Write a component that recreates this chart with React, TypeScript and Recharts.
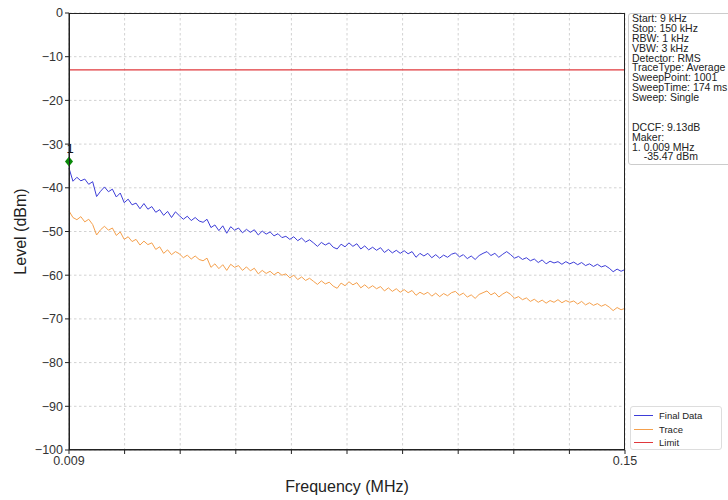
import {
  LineChart,
  Line,
  XAxis,
  YAxis,
  CartesianGrid,
  ReferenceLine,
  ReferenceDot,
} from 'recharts'

// sweep: 0.009 MHz .. 0.150 MHz, one sample every 0.001 MHz
const FREQ_START = 0.009
const FREQ_STEP = 0.001

const FINAL_DATA = [
  -35.5, -38.5, -37.6, -38.4, -38.0, -39.2, -38.6, -42.0, -40.8, -39.8,
  -40.9, -40.3, -42.1, -41.2, -43.4, -42.6, -43.9, -43.5, -44.8, -43.6,
  -44.9, -44.3, -45.6, -45.0, -46.3, -45.4, -46.8, -45.5, -46.4, -47.2,
  -46.5, -47.5, -46.8, -47.6, -47.9, -47.2, -49.1, -48.5, -49.8, -48.7,
  -50.4, -48.9, -49.7, -49.2, -50.3, -49.5, -50.2, -49.6, -50.8, -49.9,
  -50.6, -50.1, -51.0, -50.5, -51.4, -51.1, -51.8, -51.2, -52.1, -51.5,
  -52.4, -51.9, -52.6, -53.4, -52.5, -53.1, -52.6, -53.6, -54.0, -52.9,
  -53.5, -52.6, -53.4, -52.8, -54.0, -53.3, -54.2, -53.6, -54.3, -53.7,
  -54.8, -54.1, -54.9, -54.3, -55.0, -54.4, -55.1, -54.6, -55.9, -55.0,
  -55.6, -55.0, -56.0, -55.3, -56.1, -55.4, -55.9, -55.2, -54.9, -55.8,
  -55.3, -56.2, -55.6, -56.4, -55.5, -55.0, -54.6, -55.5, -55.0, -55.9,
  -55.2, -54.6, -55.3, -56.1, -55.7, -56.4, -56.0, -56.7, -56.3, -57.1,
  -56.5, -57.4, -56.8, -57.2, -56.9, -57.5, -56.9, -57.4, -57.0, -57.6,
  -57.1, -57.8, -57.4, -58.0, -57.5, -58.1, -57.8, -58.4, -59.2, -58.6,
  -59.1, -58.7,
]

const TRACE = [
  -45.3, -46.8, -47.3, -46.6, -47.8, -47.2, -48.4, -50.8, -49.6, -48.8,
  -49.7, -49.2, -50.9, -50.1, -51.8, -51.2, -52.3, -51.8, -53.1, -52.2,
  -53.0, -52.6, -54.1, -53.5, -55.0, -54.2, -55.3, -54.6, -55.1, -56.0,
  -55.4, -56.3, -55.6, -56.4, -56.7, -56.1, -58.2, -57.4, -58.5, -57.6,
  -58.9, -57.5, -58.2, -57.8, -58.9, -58.1, -59.0, -58.4, -59.7, -58.9,
  -59.6, -59.1, -59.9, -59.3, -60.0, -59.7, -60.6, -60.0, -61.0, -60.4,
  -61.2, -60.7, -61.4, -62.1, -61.3, -62.0, -61.6, -62.5, -63.0, -61.8,
  -62.4, -61.5, -62.2, -61.7, -62.9, -62.2, -63.0, -62.4, -63.1, -62.6,
  -63.6, -62.9, -63.7, -63.1, -63.9, -63.3, -64.0, -63.5, -64.6, -63.9,
  -64.4, -63.9, -64.8, -64.1, -64.9, -64.2, -64.7, -64.0, -63.7, -64.6,
  -64.1, -65.0, -64.5, -65.3, -64.4, -64.0, -63.6, -64.5, -64.0, -65.0,
  -64.3, -63.8, -64.4, -65.3, -64.9, -65.6, -65.2, -66.0, -65.5, -66.2,
  -65.7, -66.4, -65.8, -66.2, -65.6, -66.3, -65.8, -66.2, -65.9, -66.6,
  -66.0, -66.8, -66.3, -66.9, -66.5, -67.1, -66.7, -67.3, -68.1, -67.4,
  -67.9, -67.6,
]

const LIMIT_LEVEL = -13
const MARKER_FREQ = 0.009
const MARKER_LEVEL = -34

const X_TICKS = [0.009, 0.0231, 0.0372, 0.0513, 0.0654, 0.0795, 0.0936, 0.1077, 0.1218, 0.1359, 0.15]
const X_TICK_LABELS: Record<string, string> = { '0.009': '0.009', '0.15': '0.15' }
const Y_TICKS = [0, -10, -20, -30, -40, -50, -60, -70, -80, -90, -100]

const INFO_LINES = [
  'Start: 9 kHz',
  'Stop: 150 kHz',
  'RBW: 1 kHz',
  'VBW: 3 kHz',
  'Detector: RMS',
  'TraceType: Average',
  'SweepPoint: 1001',
  'SweepTime: 174 ms',
  'Sweep: Single',
  '',
  '',
  'DCCF: 9.13dB',
  'Maker:',
  '1. 0.009 MHz',
  '    -35.47 dBm',
]

const COLORS = {
  final: '#3d3dd8',
  trace: '#f5a04c',
  limit: '#e0383c',
  marker: '#0a8a0a',
}

const LEGEND = [
  { name: 'Final Data', color: COLORS.final },
  { name: 'Trace', color: COLORS.trace },
  { name: 'Limit', color: COLORS.limit },
]

const FONT = '"Liberation Sans", Arial, sans-serif'

const data = FINAL_DATA.map((v, i) => ({
  freq: +(FREQ_START + i * FREQ_STEP).toFixed(3),
  final: v,
  trace: TRACE[i],
}))

const fmtY = (v: number) => (v < 0 ? `\u2212${Math.abs(v)}` : `${v}`)

function Diamond(props: any) {
  const { cx, cy } = props
  if (cx == null || cy == null) return null
  return (
    <g>
      <path d={`M${cx},${cy - 5} L${cx + 4},${cy} L${cx},${cy + 5} L${cx - 4},${cy} Z`} fill={COLORS.marker} />
      <text x={cx + 1} y={cy - 9} textAnchor="middle" fontSize={13} fill="#111" fontFamily={FONT}>
        1
      </text>
    </g>
  )
}

export default function App() {
  return (
    <div style={{ position: 'absolute', left: 0, top: 0, width: 728, height: 500, background: '#fff', fontFamily: FONT }}>
      <LineChart width={728} height={500} data={data} margin={{ top: 13, right: 103, bottom: 0, left: 0 }}>
        <CartesianGrid stroke="#d2d2d2" strokeDasharray="2.5 2.5" />
        <XAxis
          dataKey="freq"
          type="number"
          domain={[0.009, 0.15]}
          ticks={X_TICKS}
          interval={0}
          tickFormatter={(v) => X_TICK_LABELS[String(v)] ?? ''}
          height={50}
          stroke="#222"
          tickSize={4}
          tick={{ fill: '#333', fontSize: 12.5, fontFamily: FONT }}
          label={{ value: 'Frequency (MHz)', position: 'insideBottom', offset: 8, fill: '#222', fontSize: 16, fontFamily: FONT }}
        />
        <YAxis
          type="number"
          domain={[-100, 0]}
          ticks={Y_TICKS}
          interval={0}
          width={69}
          stroke="#222"
          tickSize={4}
          tickFormatter={fmtY}
          tick={{ fill: '#333', fontSize: 12.5, fontFamily: FONT }}
          label={{ value: 'Level (dBm)', angle: -90, position: 'insideLeft', offset: 20, fill: '#222', fontSize: 16, fontFamily: FONT, style: { textAnchor: 'middle' } }}
        />
        <ReferenceLine y={LIMIT_LEVEL} stroke={COLORS.limit} strokeWidth={1.2} />
        <Line dataKey="trace" stroke={COLORS.trace} strokeWidth={1} dot={false} isAnimationActive={false} />
        <Line dataKey="final" stroke={COLORS.final} strokeWidth={1} dot={false} isAnimationActive={false} />
        <ReferenceDot x={MARKER_FREQ} y={MARKER_LEVEL} shape={<Diamond />} ifOverflow="visible" />
      </LineChart>

      {/* plot frame */}
      <div style={{ position: 'absolute', left: 69, top: 13, width: 556, height: 437, border: '1.3px solid #222', boxSizing: 'border-box', pointerEvents: 'none' }} />

      {/* instrument settings box */}
      <div
        style={{
          position: 'absolute',
          left: 628,
          top: 13,
          width: 110,
          height: 152,
          border: '1px solid #ccc',
          borderRadius: 3,
          boxSizing: 'border-box',
          padding: '0 0 0 3px',
          fontSize: 10.5,
          lineHeight: '9.9px',
          color: '#222',
          whiteSpace: 'pre',
        }}
      >
        {INFO_LINES.map((l, i) => (
          <div key={i} style={{ height: 9.9 }}>{l}</div>
        ))}
      </div>

      {/* legend */}
      <div
        style={{
          position: 'absolute',
          left: 630,
          top: 406,
          width: 92,
          height: 44,
          border: '1px solid #ddd',
          borderRadius: 3,
          boxSizing: 'border-box',
          padding: '2px 0 0 3px',
          fontSize: 9.5,
          color: '#222',
        }}
      >
        {LEGEND.map((e) => (
          <div key={e.name} style={{ display: 'flex', alignItems: 'center', height: 13.5 }}>
            <div style={{ width: 19, height: 0, borderTop: `1.5px solid ${e.color}`, marginRight: 6 }} />
            <span>{e.name}</span>
          </div>
        ))}
      </div>
    </div>
  )
}
